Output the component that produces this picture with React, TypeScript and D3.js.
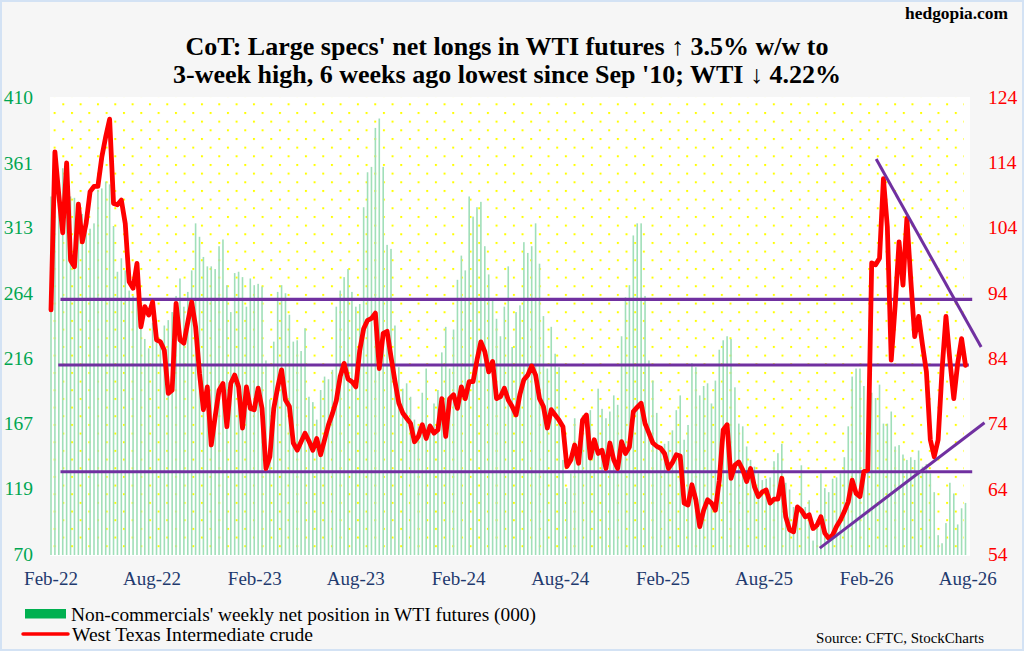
import React from 'react';
import * as d3 from 'd3';

// ---------- data ----------
const firstWeek = '2022-02-01';

// West Texas Intermediate crude, weekly ($)
const wti: number[] = [
  91.4, 115.6, 109, 103.2, 113.9, 99, 98, 107.6, 101.8, 104.7,
  109.5, 110.3, 110.3, 114.8, 117.9, 120.6, 107.7, 107.5, 108.2, 104.6,
  95.7, 94.7, 98.5, 88.8, 91.9, 90.6, 92.6, 86.8, 86.5, 85.2,
  78.6, 79.1, 92.4, 86.8, 86.3, 89.5, 92.6, 88.8, 81.7, 76.1,
  79.6, 70.7, 75, 79.1, 80.1, 73.5, 80.1, 81.4, 79.6, 73.3,
  79.6, 76.3, 76.1, 79.4, 76.3, 67.1, 68.9, 76.3, 79.5, 82.2,
  77.6, 76.6, 71, 69.9, 71.2, 72.5, 71.3, 69.9, 71.7, 69.2,
  71.5, 73.8, 75.5, 77.5, 81.2, 83.2, 80.8, 80.4, 79.6, 85.2,
  88.5, 89.8, 90.1, 90.9, 82.4, 87.8, 88.1, 84.2, 80.5, 77.1,
  75.6, 74.8, 74, 71.2, 72, 73.8, 71.7, 73.6, 72.5, 73,
  77.8, 72, 77.8, 78.4, 76.3, 79.6, 77.8, 80.4, 80.4, 83.7,
  86.5, 85, 81.9, 83.5, 77.8, 78.1, 79.4, 77.6, 76.6, 75.3,
  78.5, 80.7, 81.4, 82.8, 81.4, 77.8, 76.6, 73.3, 76.1, 75.3,
  74.5, 73.5, 67.4, 68.4, 70.7, 67.9, 74.5, 75.3, 68.7, 71.5,
  69.4, 69.9, 67.1, 71, 68.4, 67.1, 71.2, 69.4, 70.4, 75.8,
  76.5, 77.1, 74, 72.5, 71, 70.5, 70.2, 69.4, 67.1, 68,
  69.2, 69, 61.8, 61.5, 64.6, 62.3, 58.2, 60.7, 62.3, 61.8,
  60.7, 65.3, 73, 73.8, 65.6, 67.6, 68.1, 66.9, 65.1, 67.1,
  64.3, 62.8, 63.5, 63.8, 61.8, 62.4, 62.4, 65.6, 59.7, 57.7,
  57.4, 61.2, 60.7, 59.7, 60, 57.9, 58.4, 59.7, 57.2, 56.4,
  56.9, 58.2, 59.2, 60.5, 62, 65.3, 63.3, 62.8, 66.6, 66.9,
  98.6, 98.3, 99.3, 111.5, 104.1, 83.7, 92, 101.8, 95.2, 105.4,
  96, 87.3, 90.4, 86, 81.9, 71.5, 68.9, 71.5, 82.2, 90.4,
  83.7, 77.8, 83.2, 87, 82.9,
];

// Non-commercials' weekly net position in WTI futures (000)
const netPosition: number[] = [
  336, 345, 348, 357, 352, 336, 335, 332, 323, 318,
  312, 316, 341, 342, 347, 345, 314, 280, 290, 281,
  266, 262, 261, 242, 230, 223, 242, 236, 230, 240,
  244, 250, 262, 275, 254, 265, 281, 316, 306, 291,
  284, 284, 282, 299, 304, 270, 250, 279, 280, 276,
  254, 275, 270, 271, 269, 214, 185, 228, 265, 270,
  264, 248, 228, 229, 221, 238, 187, 183, 170, 192,
  202, 200, 207, 254, 266, 276, 282, 265, 254,
  256, 328, 354, 358, 387, 394, 358, 300, 297, 240,
  209, 193, 197, 187, 170, 165, 190, 208, 167, 182,
  192, 220, 239, 208, 237, 274, 292, 281, 336, 321,
  328, 332, 299, 278, 259, 245, 232, 254, 284, 224,
  250, 255, 302, 294, 299, 316, 286, 247, 208, 239,
  219, 209, 140, 119, 130, 171, 154, 173, 162, 177,
  155, 193, 178, 171, 176, 188, 181, 232, 261, 270,
  307, 316, 316, 262, 214, 199, 175, 147, 152,
  154, 162, 177, 188, 155, 166, 212, 209, 188, 195,
  197, 182, 199, 222, 229, 232, 230, 194, 167, 165,
  150, 140, 135, 130, 125, 126, 127, 139, 145, 152,
  123, 118, 105, 105, 136, 105, 110, 80, 95, 130,
  119, 116, 126, 127, 130, 142, 165, 202, 208, 208,
  195, 190, 190, 186, 196, 167, 167, 176, 150, 151,
  144, 140, 142, 140, 147, 135, 137, 130, 116, 84,
  78, 93, 123, 115, 92, 104, 108,
];

const xTickLabels = ['Feb-22', 'Aug-22', 'Feb-23', 'Aug-23', 'Feb-24', 'Aug-24', 'Feb-25', 'Aug-25', 'Feb-26', 'Aug-26'];
const xTickDates = ['2022-02-01', '2022-08-01', '2023-02-01', '2023-08-01', '2024-02-01', '2024-08-01', '2025-02-01', '2025-08-01', '2026-02-01', '2026-08-01'];
const leftTicks = [70, 119, 167, 216, 264, 313, 361, 410];
const rightTicks = [54, 64, 74, 84, 94, 104, 114, 124];

// support / resistance lines on WTI scale
const levelStarts = ['2022-02-18', '2022-02-14', '2022-02-18'];
const levelEnds = ['2026-08-09', '2026-08-03', '2026-08-09'];
const levelValues = [93.0, 82.95, 66.6];

// trend lines on WTI scale
const trendStarts = ['2026-02-18', '2025-11-09'];
const trendStartValues = [114.5, 54.9];
const trendEnds = ['2026-08-25', '2026-08-31'];
const trendEndValues = [85.7, 74.1];

const titleLines = [
  "CoT: Large specs' net longs in WTI futures \u2191 3.5% w/w to",
  "3-week high, 6 weeks ago lowest since Sep '10; WTI \u2193 4.22%",
];
const legendLabels = ["Non-commercials' weekly net position in WTI futures (000)", 'West Texas Intermediate crude'];

const parse = d3.timeParse('%Y-%m-%d');
const SERIF = "'Liberation Serif', 'Times New Roman', 'DejaVu Serif', serif";

export default function App() {
  const W = 1024;
  const H = 654;
  const plot = { left: 50, right: 970, top: 97, bottom: 556 };

  const start = parse(firstWeek) as Date;
  const dates = wti.map((_, i) => d3.timeDay.offset(start, 7 * i));
  const x = d3.scaleTime().domain([dates[0], dates[dates.length - 1]]).range([51, 965.5]);
  const yL = d3.scaleLinear().domain([70, 410]).range([554, 97]);
  const yR = d3.scaleLinear().domain([54, 124]).range([554, 97]);

  const linePath = d3
    .line<number>()
    .x((_, i) => x(dates[i]))
    .y((d) => yR(d))(wti) as string;

  const barW = 1.6;

  return (
    <div style={{ width: W, height: H }}>
      <style>{`body{margin:0;padding:0;}`}</style>
      <svg width={W} height={H} style={{ display: 'block' }} fontFamily={SERIF}>
        <defs>
          <pattern id="dots" patternUnits="userSpaceOnUse" x={62.3} y={103.3} width={17.33} height={17.33}>
            <rect x={0} y={0} width={2} height={2} fill="#ffff00" />
            <rect x={8.67} y={8.67} width={2} height={2} fill="#ffff00" />
          </pattern>
          <clipPath id="plotClip">
            <rect x={plot.left} y={plot.top} width={plot.right - plot.left} height={plot.bottom - plot.top} />
          </clipPath>
        </defs>

        {/* page background */}
        <rect x={0} y={0} width={W} height={H} fill="#ffffff" />
        <rect x={1} y={1} width={W - 2} height={649} fill="#f6f6f6" stroke="#d3e2f4" strokeWidth={2} />

        {/* plot area */}
        <rect x={plot.left} y={plot.top} width={plot.right - plot.left} height={plot.bottom - plot.top} fill="#ffffff" />
        <rect x={plot.left} y={plot.top} width={plot.right - plot.left - 6} height={plot.bottom - plot.top - 4} fill="url(#dots)" />

        {/* bars */}
        <g clipPath="url(#plotClip)">
          {netPosition.map((v, i) => (
            <rect
              key={i}
              x={x(dates[i]) - barW / 2}
              y={yL(v)}
              width={barW}
              height={555 - yL(v)}
              fill="#a0dfb9"
            />
          ))}
        </g>

        {/* level lines */}
        {levelValues.map((v, i) => (
          <line
            key={'lv' + i}
            x1={x(parse(levelStarts[i]) as Date)}
            x2={x(parse(levelEnds[i]) as Date)}
            y1={yR(v)}
            y2={yR(v)}
            stroke="#7030a0"
            strokeWidth={3.2}
          />
        ))}

        {/* WTI line */}
        <path d={linePath} fill="none" stroke="#ff0000" strokeWidth={4.8} strokeLinejoin="round" strokeLinecap="round" />

        {/* trend lines */}
        {trendStartValues.map((v, i) => (
          <line
            key={'tr' + i}
            x1={x(parse(trendStarts[i]) as Date)}
            y1={yR(v)}
            x2={x(parse(trendEnds[i]) as Date)}
            y2={yR(trendEndValues[i])}
            stroke="#7030a0"
            strokeWidth={3}
          />
        ))}

        {/* left axis */}
        {leftTicks.map((t) => (
          <text key={'l' + t} x={33} y={yL(t)} dy="0.35em" textAnchor="end" fontSize={19.5} fill="#00a651">
            {t}
          </text>
        ))}

        {/* right axis */}
        {rightTicks.map((t) => (
          <text key={'r' + t} x={988} y={yR(t)} dy="0.35em" textAnchor="start" fontSize={19.5} fill="#ff0000">
            {t}
          </text>
        ))}

        {/* x axis labels */}
        {xTickLabels.map((lab, i) => (
          <text key={lab} x={x(parse(xTickDates[i]) as Date)} y={585} textAnchor="middle" fontSize={19} fill="#1f3a6e">
            {lab}
          </text>
        ))}

        {/* title */}
        <text x={507} y={55} textAnchor="middle" fontSize={25} fontWeight="bold" fill="#000" textLength={643} lengthAdjust="spacingAndGlyphs">
          {titleLines[0]}
        </text>
        <text x={507} y={83} textAnchor="middle" fontSize={25} fontWeight="bold" fill="#000" textLength={668} lengthAdjust="spacingAndGlyphs">
          {titleLines[1]}
        </text>
        <text x={1008} y={19} textAnchor="end" fontSize={17.4} fontWeight="bold" fill="#000">
          hedgopia.com
        </text>

        {/* legend */}
        <rect x={25} y={609} width={41} height={9.5} fill="#00b050" />
        <text x={71} y={621} fontSize={19.3} fill="#000" textLength={465} lengthAdjust="spacingAndGlyphs">
          {legendLabels[0]}
        </text>
        <line x1={23} x2={68} y1={634} y2={634} stroke="#ff0000" strokeWidth={3.5} strokeLinecap="round" />
        <text x={72} y={641} fontSize={19.3} fill="#000" textLength={241} lengthAdjust="spacingAndGlyphs">
          {legendLabels[1]}
        </text>
        <text x={984} y={643} textAnchor="end" fontSize={15} fill="#000">
          Source: CFTC, StockCharts
        </text>
      </svg>
    </div>
  );
}
